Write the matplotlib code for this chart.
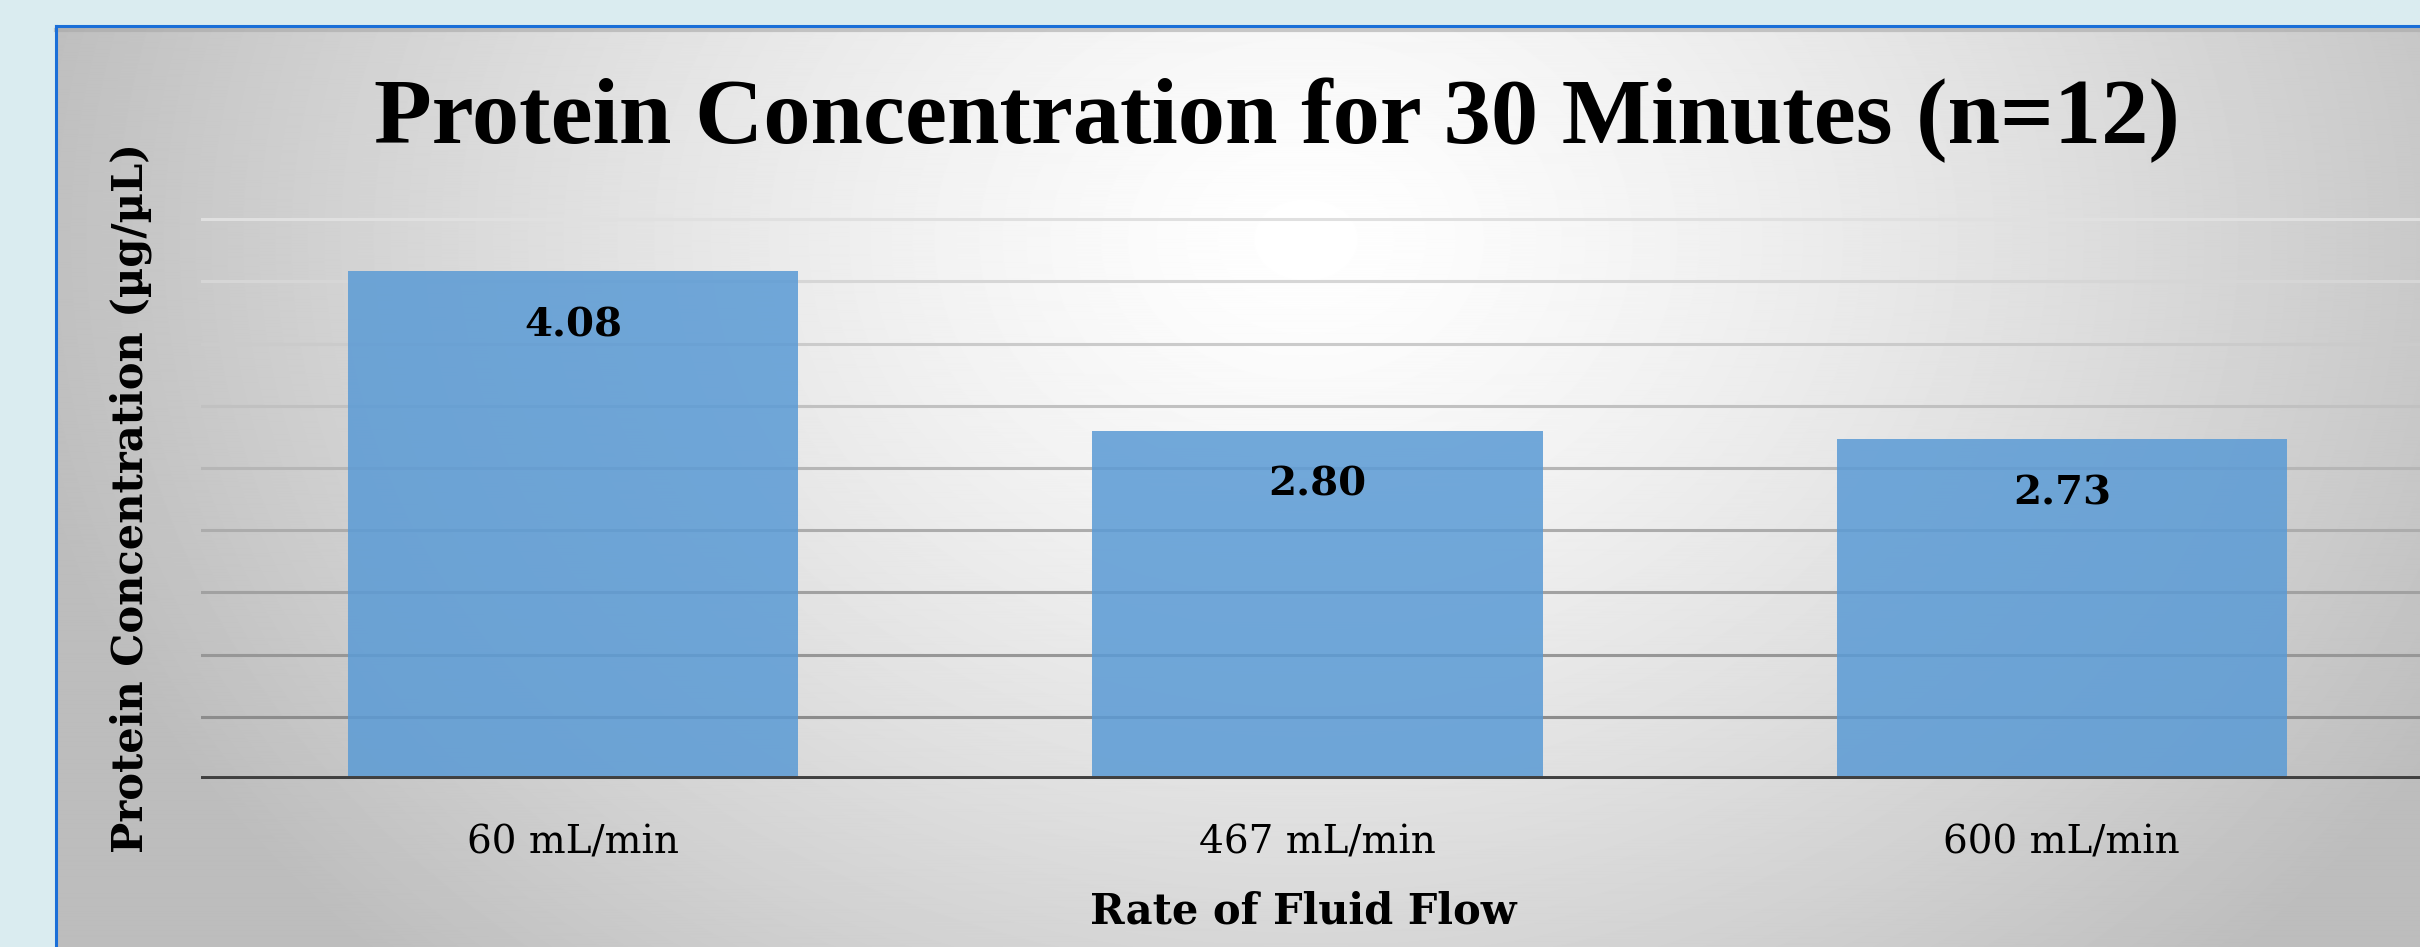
import numpy as np
import matplotlib
matplotlib.use("Agg")
import matplotlib.pyplot as plt
from matplotlib.lines import Line2D

# data
flow_rates = ["60 mL/min", "467 mL/min", "600 mL/min"]
protein_conc = [4.08, 2.80, 2.73]
value_labels = ["4.08", "2.80", "2.73"]
grid_levels = [0.5, 1.0, 1.5, 2.0, 2.5, 3.0, 3.5, 4.0, 4.5]

W, H = 2420, 947
fig = plt.figure(figsize=(W / 100, H / 100), dpi=100, facecolor="#daecf0")

# chart box with radial grey gradient
box_left = 56 / W
box_top = 1 - 26 / H
bg = fig.add_axes([box_left, 0, 1 - box_left, box_top], zorder=-2)
yy, xx = np.mgrid[0:H, 0:W - 56]
d = np.sqrt(((xx - 1250) / 1300.0) ** 2 + ((yy - 220) / 1050.0) ** 2)
shade = 255 - 66 * np.clip(d, 0, 1) ** 1.3
bg.imshow(shade, cmap="gray", vmin=0, vmax=255, aspect="auto", interpolation="bilinear")
bg.axis("off")

# blue border on top and left, with a faint shadow under it
fig.add_artist(Line2D([box_left, 1], [box_top - 4 / H, box_top - 4 / H], transform=fig.transFigure,
                      color="#a8a8a8", lw=3, alpha=0.6))
fig.add_artist(Line2D([box_left, 1], [box_top, box_top], transform=fig.transFigure,
                      color="#1a6fd8", lw=2.2))
fig.add_artist(Line2D([box_left, box_left], [0, box_top], transform=fig.transFigure,
                      color="#1a6fd8", lw=2.2))

# plot area
ymax = 4.6
ax = fig.add_axes([201 / W, 1 - 779 / H, (2434 - 201) / W, ymax * 124.4 / H])
ax.set_facecolor("none")
x = np.arange(len(flow_rates))

grays = np.linspace(0.88, 0.55, len(grid_levels))[::-1]
for lvl, g in zip(grid_levels, grays):
    ax.axhline(lvl, color=str(g), lw=2.2, zorder=1)

bars = ax.bar(x, protein_conc, width=0.605, color="#5b9bd5", alpha=0.86, zorder=2)
ax.axhline(0, color="#404040", lw=5, zorder=3)

for xi, v, lab in zip(x, protein_conc, value_labels):
    ax.annotate(lab, (xi, v), xytext=(0, -39), textcoords="offset points",
                ha="center", va="center", fontsize=29, fontweight="bold",
                family="DejaVu Serif", color="black")

ax.set_xlim(-0.5, 2.5)
ax.set_ylim(0, ymax)
ax.set_yticks([])
ax.set_xticks(x)
ax.set_xticklabels(flow_rates, family="DejaVu Serif", fontsize=28)
ax.tick_params(axis="x", length=0, pad=33)
for s in ax.spines.values():
    s.set_visible(False)

ax.set_xlabel("Rate of Fluid Flow", family="DejaVu Serif", fontsize=30, fontweight="bold")
ax.xaxis.set_label_coords((1303 - 201) / (2434 - 201), (779 - 923) / (ymax * 124.4))
ax.xaxis.label.set_va("baseline")

ax.set_ylabel("Protein Concentration (µg/µL)", family="DejaVu Serif", fontsize=30, fontweight="bold")
ax.yaxis.set_label_coords((131 - 201) / (2434 - 201), (779 - 498) / (ymax * 124.4))
ax.yaxis.label.set_va("center")

fig.text(1277 / W, 1 - 143 / H, "Protein Concentration for 30 Minutes (n=12)",
         ha="center", va="baseline", fontsize=68, fontweight="bold", family="Liberation Serif")

fig.savefig("out.png", dpi=100, facecolor=fig.get_facecolor())
